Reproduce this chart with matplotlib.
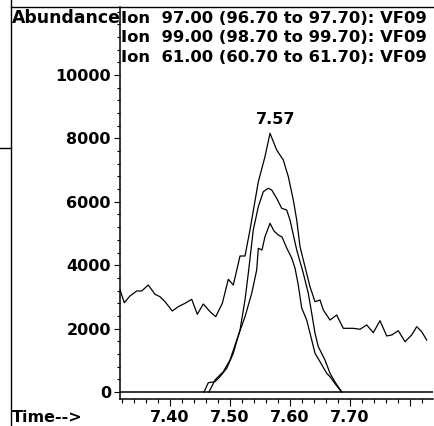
import matplotlib
matplotlib.use("Agg")
import matplotlib.pyplot as plt
from matplotlib.ticker import MultipleLocator
from matplotlib.lines import Line2D

# ---------------- data ----------------
ion97_time = [7.3167, 7.3238, 7.3333, 7.3445, 7.3528, 7.3638, 7.3750, 7.3833,
              7.3917, 7.4038, 7.4138, 7.4250, 7.4362, 7.4455, 7.4555, 7.4667,
              7.4762, 7.4872, 7.4972, 7.5055, 7.5167, 7.5250, 7.5333, 7.5472,
              7.5583, 7.5667, 7.5778, 7.5833, 7.5888, 7.5972, 7.6055, 7.6112,
              7.6167, 7.6250, 7.6333, 7.6417, 7.6500, 7.6555, 7.6667, 7.6778,
              7.6888, 7.7055, 7.7167, 7.7278, 7.7388, 7.7500, 7.7612, 7.7695,
              7.7805, 7.7917, 7.8028, 7.8112, 7.8195, 7.8278]
ion97_abund = [3218, 2817, 3028, 3186, 3186, 3375, 3082, 3006,
               2849, 2555, 2691, 2798, 2924, 2451, 2776, 2533,
               2375, 2798, 3555, 3375, 4290, 4290, 5110, 6634,
               7423, 8161, 7634, 7476, 7319, 6792, 6057, 5426,
               4584, 3953, 3322, 2849, 2902, 2587, 2271, 2429,
               2009, 2009, 1978, 2114, 1871, 2249, 1767, 1798,
               1934, 1587, 1798, 2060, 1902, 1640]

ion99_time = [7.4567, 7.4638, 7.4750, 7.4833, 7.4945, 7.5055, 7.5167, 7.5250,
              7.5305, 7.5388, 7.5472, 7.5555, 7.5638, 7.5695, 7.5778, 7.5862,
              7.5945, 7.6000, 7.6112, 7.6222, 7.6305, 7.6362, 7.6417, 7.6472,
              7.6583, 7.6667, 7.6750, 7.6862]
ion99_abund = [0, 293, 325, 483, 748, 1221, 1956, 2902,
               3745, 5110, 5846, 6319, 6426, 6372, 6110, 5795,
               5741, 5426, 4480, 3745, 3114, 2483, 1852, 1429,
               1009, 590, 315, 0]

ion61_time = [7.4650, 7.4750, 7.4888, 7.5000, 7.5112, 7.5250, 7.5362, 7.5445,
              7.5472, 7.5533, 7.5583, 7.5667, 7.5733, 7.5805, 7.5867, 7.5945,
              7.6028, 7.6083, 7.6138, 7.6195, 7.6278, 7.6362, 7.6417, 7.6500,
              7.6612, 7.6667, 7.6767, 7.6862]
ion61_abund = [0, 379, 640, 1009, 1640, 2375, 3114, 3849,
               4533, 4480, 4899, 5322, 5079, 4953, 4890, 4543,
               4227, 3912, 3375, 2650, 2271, 1640, 1221, 956,
               590, 483, 221, 0]

legend_lines = ["Ion  97.00 (96.70 to 97.70): VF09",
                "Ion  99.00 (98.70 to 99.70): VF09",
                "Ion  61.00 (60.70 to 61.70): VF09"]
peak_label = "7.57"
peak_time = 7.5667
peak_abund = 8161

xtick_values = [7.40, 7.50, 7.60, 7.70, 7.80]
xtick_labels = ["7.40", "7.50", "7.60", "7.70", ""]
ytick_values = [0, 2000, 4000, 6000, 8000, 10000]
ytick_labels = ["0", "2000", "4000", "6000", "8000", "10000"]

# ---------------- figure ----------------
W, H = 434, 426
fig = plt.figure(figsize=(W / 100, H / 100), dpi=100)
fig.patch.set_facecolor("white")

def fx(px):
    return px / W

def fy(py):
    return 1 - py / H

ax_l, ax_r, ax_t, ax_b = 120, 433, 7, 399
ax = fig.add_axes([fx(ax_l), fy(ax_b), (ax_r - ax_l) / W, (ax_b - ax_t) / H])
ax.set_facecolor("white")

FONT = {"family": "DejaVu Sans", "weight": "bold", "size": 11.5}

lw = 0.9
ax.plot(ion97_time, ion97_abund, color="black", lw=lw)
ax.plot(ion99_time, ion99_abund, color="black", lw=lw)
ax.plot(ion61_time, ion61_abund, color="black", lw=lw)
ax.axhline(0, color="black", lw=1.1)

ax.set_xlim(7.31667, 7.83833)
ax.set_ylim(-221, 12145)

for s in ["top", "right"]:
    ax.spines[s].set_visible(False)
for s in ["left", "bottom"]:
    ax.spines[s].set_linewidth(1.1)
    ax.spines[s].set_color("black")

ax.set_xticks(xtick_values)
ax.set_xticklabels(xtick_labels, fontdict=FONT)
ax.xaxis.set_minor_locator(MultipleLocator(0.02))
ax.set_yticks(ytick_values)
ax.set_yticklabels(ytick_labels, fontdict=FONT)
ax.yaxis.set_minor_locator(MultipleLocator(400))

ax.tick_params(axis="x", which="major", direction="out", length=5, width=0.8, pad=3)
ax.tick_params(axis="x", which="minor", direction="out", length=3, width=0.8)
ax.tick_params(axis="y", which="major", direction="out", length=4, width=0.8, pad=2.5)
ax.tick_params(axis="y", which="minor", direction="out", length=2, width=0.8)

ax.text(7.576, 8450, peak_label, ha="center", va="baseline", **FONT)

# header texts
fig.text(fx(11.5), fy(22.7), "Abundance", ha="left", va="baseline",
         family="DejaVu Sans", weight="bold", size=12.4)
for i, line in enumerate(legend_lines):
    fig.text(fx(121.5), fy(22.7 + 19.5 * i), line, ha="left", va="baseline",
             family="DejaVu Sans", weight="bold", size=11.8)
fig.text(fx(12), fy(422.5), "Time-->", ha="left", va="baseline", **FONT)

# scanned page frame lines
fig.add_artist(Line2D([fx(10.5), fx(10.5)], [0, 1], color="black", lw=1.0,
                      transform=fig.transFigure))
fig.add_artist(Line2D([fx(10.5), 1], [fy(6.7), fy(6.7)], color="black", lw=1.0,
                      transform=fig.transFigure))
fig.add_artist(Line2D([0, fx(10.5)], [fy(148), fy(148)], color="black", lw=1.0,
                      transform=fig.transFigure))

fig.savefig("out.png", dpi=100, facecolor="white")
